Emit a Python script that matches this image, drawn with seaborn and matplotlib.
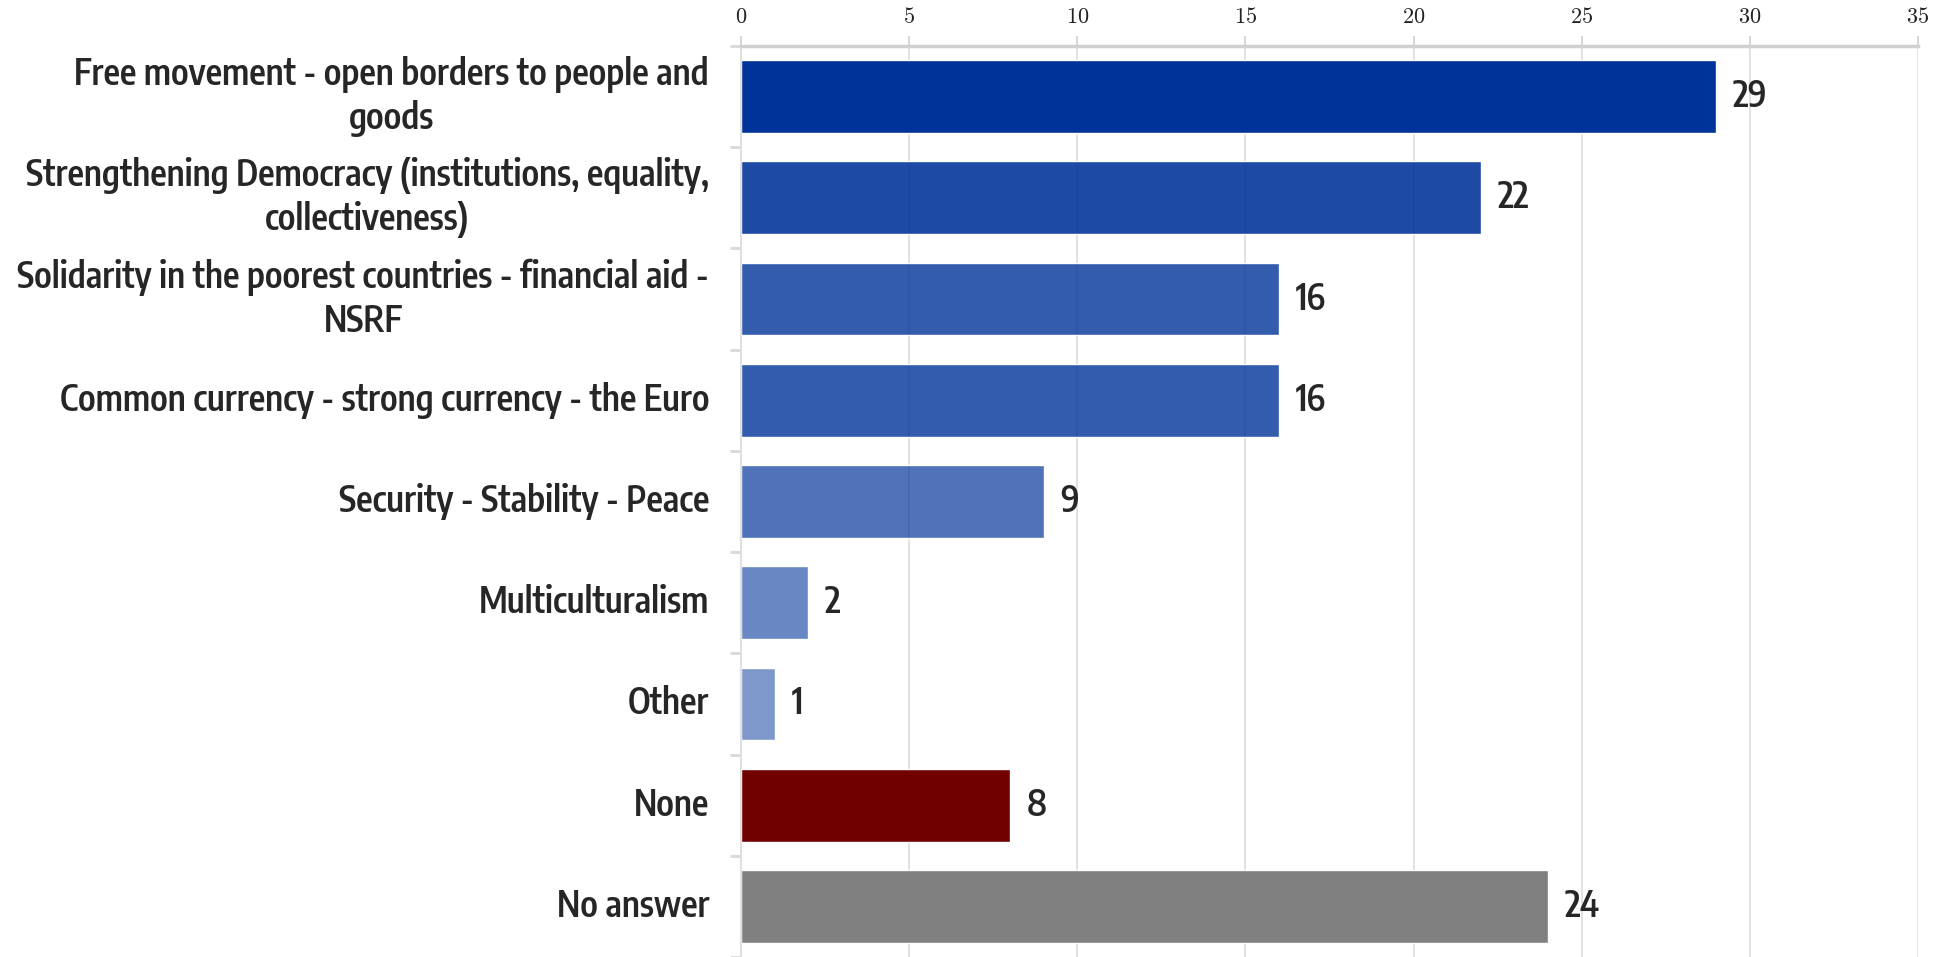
import matplotlib
matplotlib.use("Agg")
import matplotlib.pyplot as plt
import seaborn as sns
import pandas as pd
from matplotlib import font_manager
from matplotlib.textpath import TextPath
from matplotlib.colors import to_rgba
from matplotlib.ticker import MultipleLocator, FixedLocator

# ── data ──────────────────────────────────────────────────────────────────────
categories = [
    "Free movement - open borders to people and\ngoods",
    "Strengthening Democracy (institutions, equality,\ncollectiveness)",
    "Solidarity in the poorest countries - financial aid -\nNSRF",
    "Common currency - strong currency - the Euro",
    "Security - Stability - Peace",
    "Multiculturalism",
    "Other",
    "None",
    "No answer",
]
values = [29, 22, 16, 16, 9, 2, 1, 8, 24]
bar_colors = ["#003399"] * 7 + ["#700000", "#808080"]
bar_alphas = [1.0, 0.89, 0.8, 0.8, 0.69, 0.59, 0.5, 1.0, 1.0]
x_ticks = [0, 5, 10, 15, 20, 25, 30, 35]

df = pd.DataFrame({"category": categories, "value": values})

# ── style ─────────────────────────────────────────────────────────────────────
sns.set_theme(style="white")
plt.rcParams["mathtext.fontset"] = "cm"
DPI = 100

# first label line is ~631 px wide in the reference, digits ~26 px tall
REF_LINE = "Free movement - open borders to people and"
REF_W, REF_CAP = 631.0, 26.0


def measure(fp):
    w = TextPath((0, 0), REF_LINE, size=100, prop=fp).get_extents().width
    h = TextPath((0, 0), "H", size=100, prop=fp).get_extents().height
    return w, h


# only look at narrow / condensed bold upright faces (few files, quick),
# keep the one whose width/height ratio is closest to the reference
best = None
seen = set()
for f in font_manager.fontManager.ttflist:
    key = (f.name + " " + f.fname).lower()
    if f.fname in seen or not ("narrow" in key or "condensed" in key):
        continue
    seen.add(f.fname)
    if "italic" in key or "oblique" in key or f.style != "normal":
        continue
    wt = f.weight if isinstance(f.weight, int) else (700 if f.weight == "bold" else 400)
    if wt < 600 or wt > 750:
        continue
    try:
        w, h = measure(font_manager.FontProperties(fname=f.fname))
    except Exception:
        continue
    if h <= 0:
        continue
    score = abs(w / h - REF_W / REF_CAP)
    if best is None or score < best[0]:
        best = (score, f.fname, w, h)

if best:
    fname, w100, h100 = best[1], best[2], best[3]
    lbl_size = REF_W / (w100 / 100 * DPI / 72)
    val_size = REF_CAP / (h100 / 100 * DPI / 72)
    LBL = dict(fontproperties=font_manager.FontProperties(fname=fname, size=lbl_size))
    VAL = dict(fontproperties=font_manager.FontProperties(fname=fname, size=val_size))
    lbl_px = lbl_size * DPI / 72
else:
    LBL = dict(family=["Roboto", "DejaVu Sans"], fontsize=22.5, fontweight="bold")
    VAL = dict(family=["Roboto", "DejaVu Sans"], fontsize=24, fontweight="bold")
    lbl_px = 22.5 * DPI / 72
line_sp = 1.28 * 41.0 / (lbl_px * 1.2)

fig = plt.figure(figsize=(19.39, 9.57), dpi=DPI)
ax = fig.add_axes([741 / 1939, 0.0, (1918 - 741) / 1939, 1 - 46 / 957])

palette = [to_rgba(c, a) for c, a in zip(bar_colors, bar_alphas)]
sns.barplot(data=df, y="category", x="value", hue="category", palette=palette,
            legend=False, orient="h", width=0.72, ax=ax, saturation=1, zorder=2)

ax.set_xlim(0, 35)
ax.set_ylim(len(categories) - 0.5, -0.5)
ax.xaxis.tick_top()
ax.xaxis.set_major_locator(FixedLocator(x_ticks))
ax.set_xticklabels([f"${t}$" for t in x_ticks], fontsize=16)
ax.tick_params(axis="x", which="major", top=True, length=7, color="#d0d0d0",
               width=1.2, pad=7, labelcolor="#222222")
ax.grid(axis="x", color="#dcdcdc", linewidth=1.2, zorder=0)
ax.set_axisbelow(True)

# category labels drawn as text so the narrow font can be used
ax.tick_params(axis="y", which="major", left=False, labelleft=False)
ax.yaxis.set_minor_locator(MultipleLocator(1, offset=0.5))
ax.tick_params(axis="y", which="minor", left=True, length=8, width=2,
               color="#d8d8d8")
for i, c in enumerate(categories):
    ax.annotate(c, xy=(0, i), xycoords=("axes fraction", "data"),
                xytext=(-23, 0), textcoords="offset points", ha="right",
                va="center", multialignment="center", color="#262626",
                linespacing=line_sp, **LBL)
ax.set_xlabel("")
ax.set_ylabel("")

for s in ["right", "bottom"]:
    ax.spines[s].set_visible(False)
ax.spines["top"].set_color("#d0d0d0")
ax.spines["top"].set_linewidth(2.5)
ax.spines["left"].set_color("#e0e0e0")
ax.spines["left"].set_linewidth(1.5)

# value labels
for i, v in enumerate(values):
    ax.annotate(str(v), xy=(v, i), xytext=(12, 0), textcoords="offset points",
                va="center", ha="left", color="#262626", **VAL)

fig.savefig("out.png", dpi=DPI)
